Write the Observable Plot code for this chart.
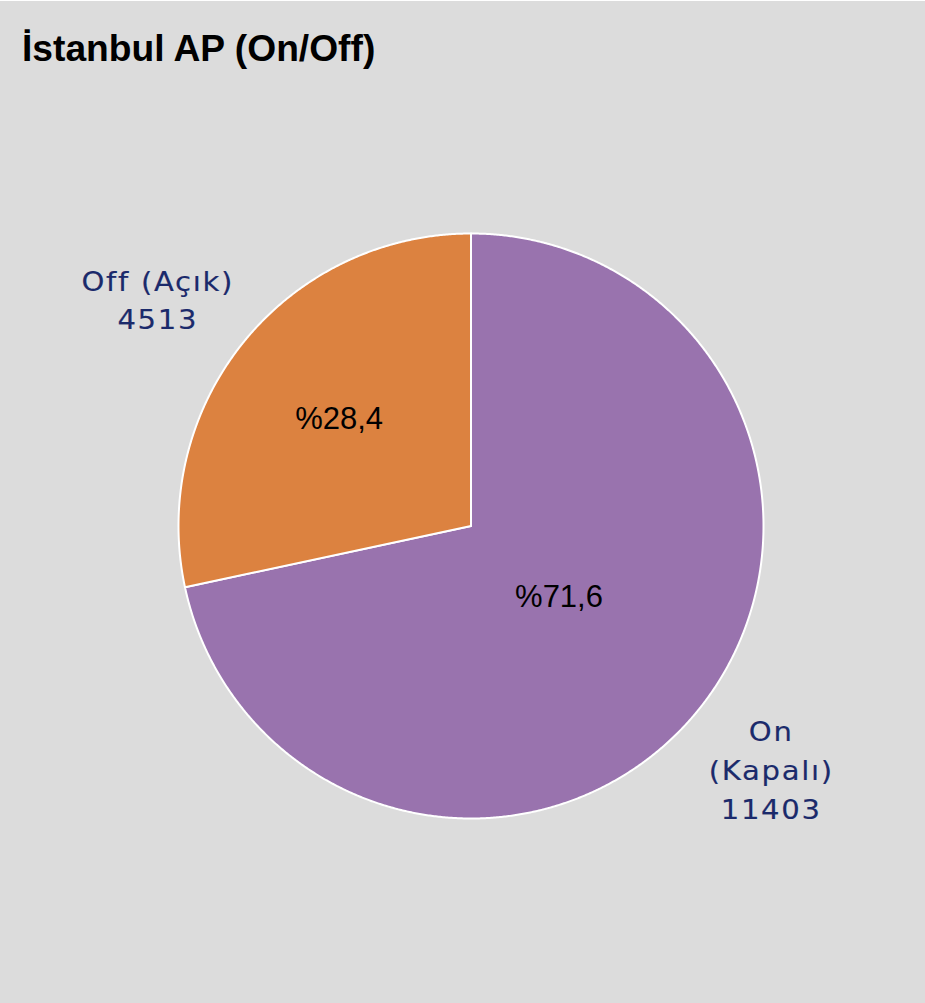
<!DOCTYPE html>
<html>
<head>
<meta charset="utf-8">
<script src="https://cdn.jsdelivr.net/npm/d3@7"></script>
<script src="https://cdn.jsdelivr.net/npm/@observablehq/plot@0.6"></script>
<style>
  html, body { margin: 0; padding: 0; background: #dcdcdc; }
  #page { width: 925px; height: 1002px; background: #dcdcdc; border-top: 1px solid #ffffff; overflow: hidden; }
  #title { height: 89px; box-sizing: border-box; padding: 26px 0 0 22px; font: bold 37.2px "Liberation Sans", Arial, sans-serif; color: #000; line-height: normal; }
  svg .outer text { font-family: "DejaVu Sans", Verdana, sans-serif; font-size: 26px; letter-spacing: 1.5px; stroke: #1b2a6b; stroke-width: 0.15px; }
</style>
</head>
<body>
<div id="page">
  <div id="title">İstanbul AP (On/Off)</div>
  <div id="chart"></div>
</div>
<script>
const categories = ["On (Kapalı)", "Off (Açık)"];
const labelLines = ["On\n(Kapalı)", "Off (Açık)"];
const values = [11403, 4513];
const colors = ["#9973ae", "#dc8240"];

const total = d3.sum(values);
const arcs = d3.pie().sort(null).value(d => d.value)(
  categories.map((name, i) => ({name, value: values[i], label: labelLines[i]}))
);

const slicePts = [];
for (const a of arcs) {
  const n = Math.max(2, Math.ceil((a.endAngle - a.startAngle) / 0.005));
  slicePts.push({name: a.data.name, x: 0, y: 0});
  for (let k = 0; k <= n; k++) {
    const t = a.startAngle + (a.endAngle - a.startAngle) * k / n;
    slicePts.push({name: a.data.name, x: Math.sin(t), y: Math.cos(t)});
  }
}

const insideR = {"On (Kapalı)": 0.387, "Off (Açık)": 0.58};
const pct = arcs.map(a => {
  const m = (a.startAngle + a.endAngle) / 2;
  const r = insideR[a.data.name];
  return {
    name: a.data.name,
    x: r * Math.sin(m), y: r * Math.cos(m),
    text: "%" + (a.data.value / total * 100).toFixed(1).replace(".", ",")
  };
});
const outer = arcs.map(a => {
  const m = (a.startAngle + a.endAngle) / 2;
  return {
    name: a.data.name,
    x: 1.32 * Math.sin(m), y: 1.32 * Math.cos(m),
    text: a.data.label + "\n" + a.data.value
  };
});

const R = 292.5, cx = 470.5, cy = 435.5;
const font2 = "'DejaVu Sans', Verdana, sans-serif";
const chart = Plot.plot({
  width: 925,
  height: 913,
  margin: 0,
  style: {background: "transparent", overflow: "visible"},
  x: {domain: [-1, 1], range: [cx - R, cx + R], axis: null},
  y: {domain: [-1, 1], range: [cy + R, cy - R], axis: null},
  color: {domain: categories, range: colors},
  marks: [
    Plot.line(slicePts, {x: "x", y: "y", z: "name", fill: "name", stroke: "#ffffff", strokeWidth: 2, curve: "linear-closed", strokeLinejoin: "round"}),
    Plot.text(pct, {x: "x", y: "y", text: "text", fontSize: 31, fontFamily: "'Liberation Sans', Arial, sans-serif", fill: "#000"}),
    Plot.text(outer.filter(d => d.name === "On (Kapalı)"), {x: "x", y: "y", text: "text", fontSize: 26, lineHeight: 1.5, dy: -1, fontFamily: font2, fill: "#1b2a6b", className: "outer"}),
    Plot.text(outer.filter(d => d.name === "Off (Açık)"), {x: "x", y: "y", text: "text", fontSize: 26, lineHeight: 1.46, dx: -13, dy: 15, fontFamily: font2, fill: "#1b2a6b", className: "outer"})
  ]
});
// widen the outer label glyphs horizontally, as in the reference
chart.querySelectorAll(".outer text").forEach(t => {
  const tr = t.getAttribute("transform") || "";
  t.setAttribute("transform", tr + " scale(1.12,1)");
});
document.getElementById("chart").appendChild(chart);
</script>
</body>
</html>
